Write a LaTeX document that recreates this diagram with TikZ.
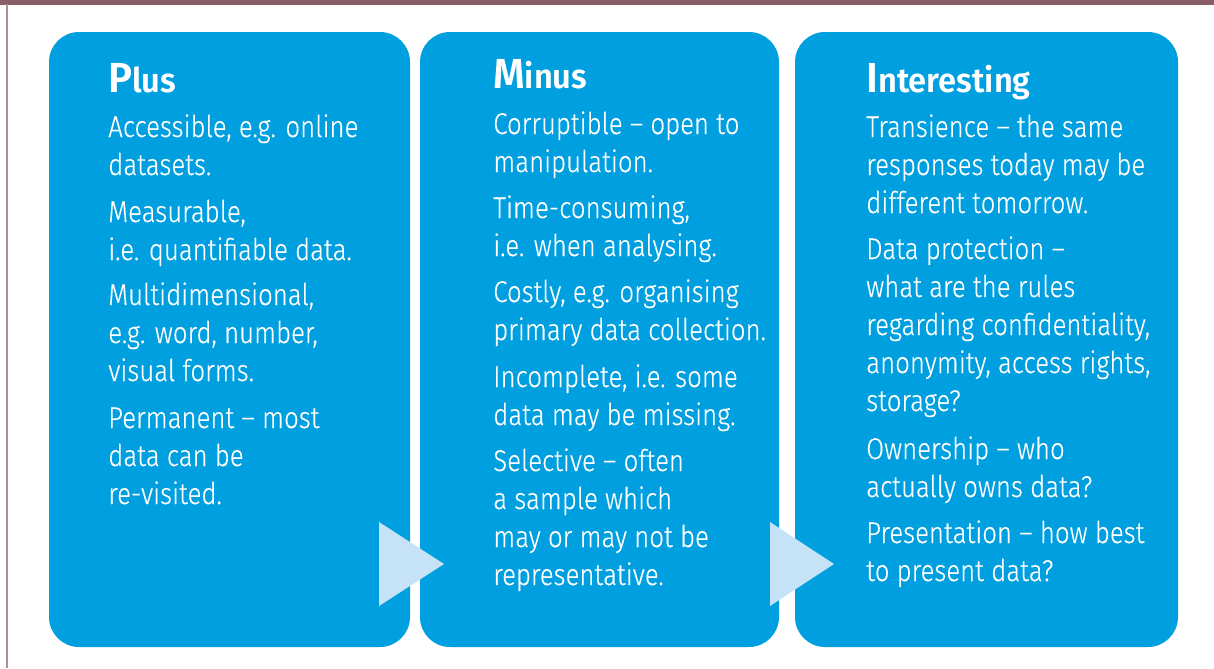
\documentclass[tikz,border=0pt]{standalone}
\usepackage{fontspec}
\setmainfont{Fira Sans}[UprightFont={* Light}, BoldFont={* SemiBold}, FakeStretch=0.86, FakeBold=0.3]
\newfontfamily\ttlfont{Fira Sans}[UprightFont={* SemiBold}, FakeStretch=0.96]
\usetikzlibrary{fit}
\definecolor{boxblue}{RGB}{0,159,223}
\definecolor{arrowblue}{RGB}{198,226,247}
\definecolor{barmauve}{RGB}{138,94,104}
\definecolor{linemauve}{RGB}{176,143,152}
\tikzset{
  box/.style={fill=boxblue, rounded corners=22.5pt, inner sep=0pt, draw=none},
  item/.style={text=white, inner sep=0pt, anchor=base west, font=\fontsize{22.5pt}{28.5pt}\selectfont},
  ttl/.style={text=white, inner sep=0pt, anchor=base west, font=\ttlfont},
  flow/.style={fill=arrowblue}
}
\newcommand\titletext[2]{{\fontsize{31.5pt}{36pt}\selectfont #1}{\fontsize{25.5pt}{30pt}\selectfont #2}}
\newcommand\itemlines[4]{%
  \foreach \t [count=\i from 0] in {#4}
    \node[item] (#1-\i) at (#2,{#3+38*\i}) {\t};}
\begin{document}
\begin{tikzpicture}[x=0.75pt,y=-0.75pt]
\useasboundingbox (0,0) rectangle (1214,668);
\fill[white] (0,0) rectangle (1214,668);
\fill[barmauve] (0,0) rectangle (1214,4.5);
\draw[linemauve, line width=0.9pt] (7,4) -- (7,668);
% boxes
\node[box, fit={(49,32) (410,647)}] (plus) {};
\node[box, fit={(420,32) (779,647)}] (minus) {};
\node[box, fit={(795,32) (1178,647)}] (inter) {};
% flow triangles
\fill[flow] (379,522) -- (379,606) -- (444,564) -- cycle;
\fill[flow] (770,522) -- (770,606) -- (834,564) -- cycle;
% titles
\node[ttl] (tplus) at (108,92) {\titletext{P}{lus}};
\node[ttl] (tminus) at (493,88) {\titletext{M}{inus}};
\node[ttl] (tinter) at (866,92) {\titletext{I}{nteresting}};
% column 1
\itemlines{pa}{108}{137}{{Accessible, e.g. online},{datasets.}}
\itemlines{pb}{108}{222}{{Measurable,},{i.e. quantifiable data.}}
\itemlines{pc}{108}{305}{{Multidimensional,},{e.g. word, number,},{visual forms.}}
\itemlines{pd}{108}{428}{{Permanent – most},{data can be},{re-visited.}}
% column 2
\itemlines{ma}{493}{134}{{Corruptible – open to},{manipulation.}}
\itemlines{mb}{493}{218}{{Time-consuming,},{i.e. when analysing.}}
\itemlines{mc}{493}{302}{{Costly, e.g. organising},{primary data collection.}}
\itemlines{md}{493}{387}{{Incomplete, i.e. some},{data may be missing.}}
\itemlines{me}{493}{471}{{Selective – often},{a sample which},{may or may not be},{representative.}}
% column 3
\itemlines{ia}{866}{137}{{Transience – the same},{responses today may be},{different tomorrow.}}
\itemlines{ib}{866}{259}{{Data protection –},{what are the rules},{regarding confidentiality,},{anonymity, access rights,},{storage?}}
\itemlines{ic}{866}{459}{{Ownership – who},{actually owns data?}}
\itemlines{id}{866}{543}{{Presentation – how best},{to present data?}}
\end{tikzpicture}
\end{document}
